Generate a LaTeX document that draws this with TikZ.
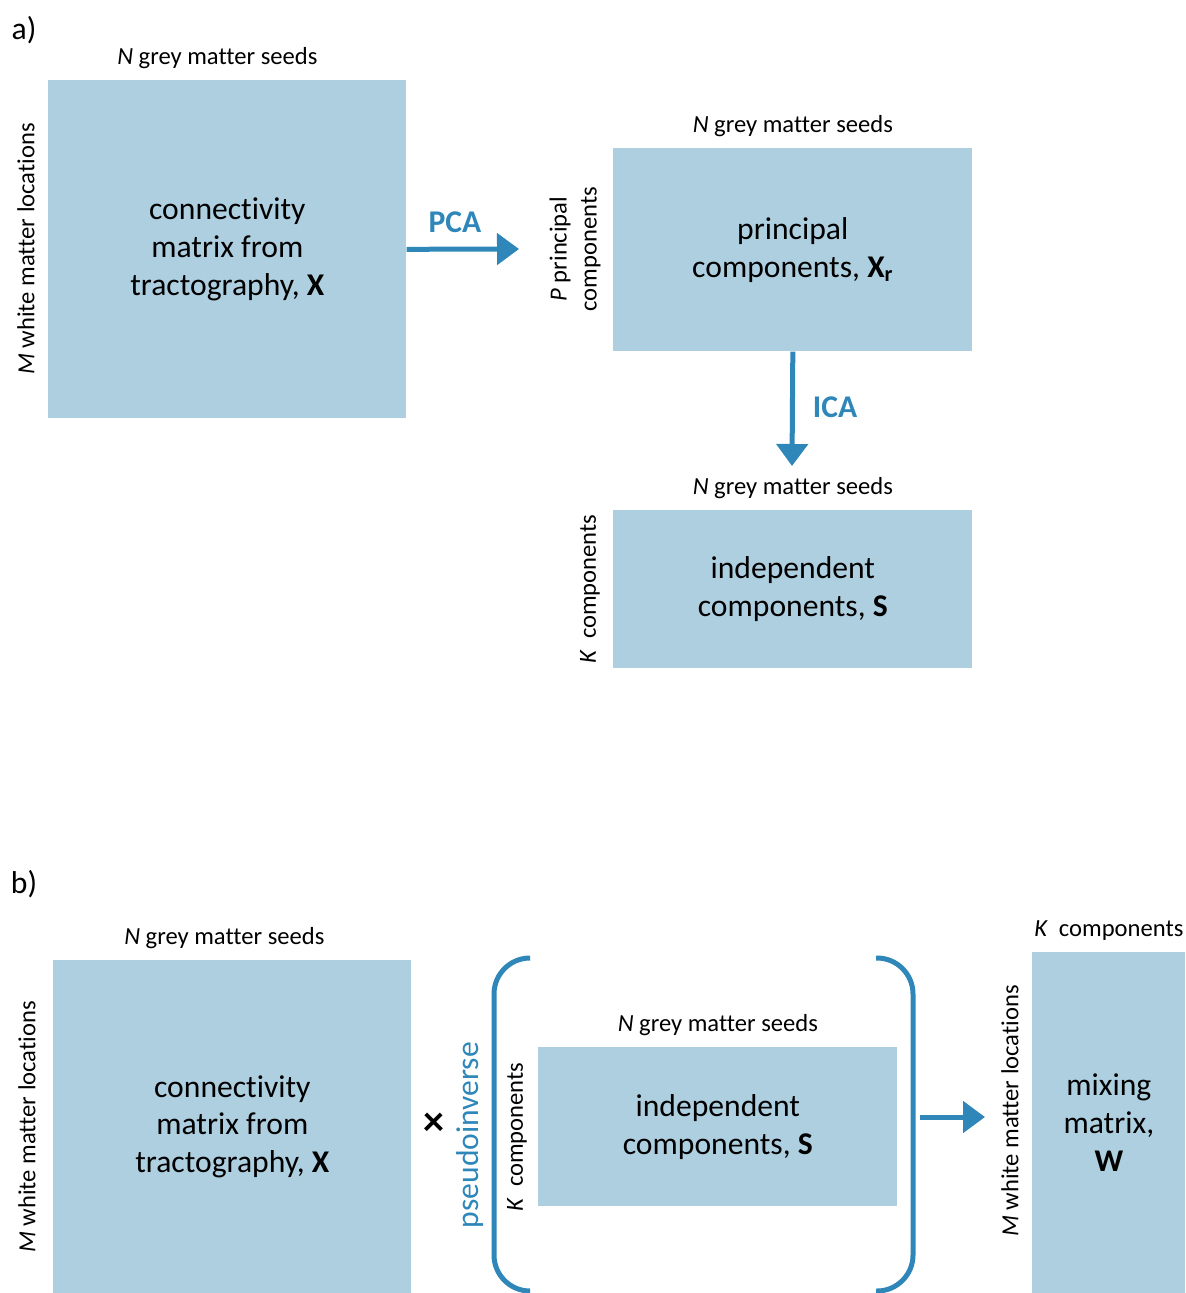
\documentclass[tikz,border=0pt]{standalone}
\usepackage{fontspec}
\setmainfont{Carlito}[Ligatures=NoCommon]
\usepackage{xcolor}
\usetikzlibrary{arrows.meta,positioning}
\definecolor{caixa}{RGB}{174,207,224}
\definecolor{azul}{RGB}{46,134,185}
\tikzset{
    matriz/.style={
        rectangle,
        fill=caixa,
        align=center,
        inner sep=0pt,
        anchor=north west,
        font=\fontsize{18}{21.6}\selectfont
    },
    rotulo/.style={inner sep=0pt, font=\fontsize{14}{17}\selectfont},
    lateral/.style={rotulo, rotate=90, align=center},
    painel/.style={inner sep=0pt, font=\fontsize{18}{21.6}\selectfont},
    operacao/.style={painel, text=azul, font=\fontsize{18}{21.6}\selectfont\bfseries},
    seta/.style={draw=azul, line width=0.1cm, -{Triangle[length=0.44cm, width=0.62cm]}},
    chave/.style={draw=azul, line width=0.1cm, rounded corners=0.72cm}
}

\begin{document}
\begin{tikzpicture}[x=0.02cm, y=-0.02cm]
    \useasboundingbox (0,0) rectangle (1185,1293);

    % a)
    \node[painel] (letraA) at (24,30) {a)};
    \node[matriz, minimum width=7.16cm, minimum height=6.76cm] (conexA) at (48,80)
        {connectivity\\matrix from\\tractography, \textbf{X}};
    \node[rotulo, above=0.22cm of conexA, xshift=-0.2cm] (seedsA) {\textit{N} grey matter seeds};
    \node[lateral] (linhasA) at (26,249) {\textit{M} white matter locations};

    \node[matriz, minimum width=7.18cm, minimum height=4.06cm] (pcs) at (613,148)
        {principal\\components, \textbf{X\textsubscript{r}}};
    \node[rotulo, above=0.22cm of pcs] (seedsPC) {\textit{N} grey matter seeds};
    \node[lateral] (linhasPC) at (575,249) {\textit{P} principal\\components};

    \node[matriz, minimum width=7.18cm, minimum height=3.16cm] (icsA) at (613,510)
        {independent\\components, \textbf{S}};
    \node[rotulo, above=0.22cm of icsA] (seedsIC) {\textit{N} grey matter seeds};
    \node[lateral] (linhasIC) at (590,589) {\textit{K}\ \ components};

    \coordinate (fimPCA) at (519,249);
    \coordinate (fimICA) at (792,466);
    \draw[seta] (conexA.east) -- (fimPCA) node[operacao, pos=0.43, above=0.28cm] (pca) {PCA};
    \draw[seta] (pcs.south) -- (fimICA) node[operacao, midway, right=0.36cm, yshift=0.04cm] (ica) {ICA};

    % b)
    \node[painel] (letraB) at (24,884) {b)};
    \node[matriz, minimum width=7.16cm, minimum height=6.66cm] (conexB) at (53,960)
        {connectivity\\matrix from\\tractography, \textbf{X}};
    \node[rotulo, above=0.22cm of conexB, xshift=-0.16cm] (seedsB) {\textit{N} grey matter seeds};
    \node[lateral] (linhasB) at (27,1127) {\textit{M} white matter locations};

    \node[painel, font=\fontsize{24}{28}\selectfont\bfseries] (vezes) at (434,1124) {×};
    \node[painel, rotate=90, text=azul] (pinv) at (470,1135) {pseudoinverse};

    \draw[chave] (530,958) -- (494,958) -- (494,1291) -- (530,1291);
    \draw[chave] (876,958) -- (913,958) -- (913,1291) -- (876,1291);

    \node[matriz, minimum width=7.18cm, minimum height=3.18cm] (icsB) at (538,1047)
        {independent\\components, \textbf{S}};
    \node[rotulo, above=0.22cm of icsB] (seedsICB) {\textit{N} grey matter seeds};
    \node[lateral] (linhasICB) at (517,1137) {\textit{K}\ \ components};

    \coordinate (iniW) at (920,1117);
    \coordinate (fimW) at (985,1117);
    \draw[seta] (iniW) -- (fimW);

    \node[matriz, minimum width=3.06cm, minimum height=6.82cm] (mistura) at (1032,952)
        {mixing\\matrix,\\\textbf{W}};
    \node[rotulo, above=0.22cm of mistura] (compW) {\textit{K}\ \ components};
    \node[lateral] (linhasW) at (1010,1111) {\textit{M} white matter locations};
\end{tikzpicture}
\end{document}
